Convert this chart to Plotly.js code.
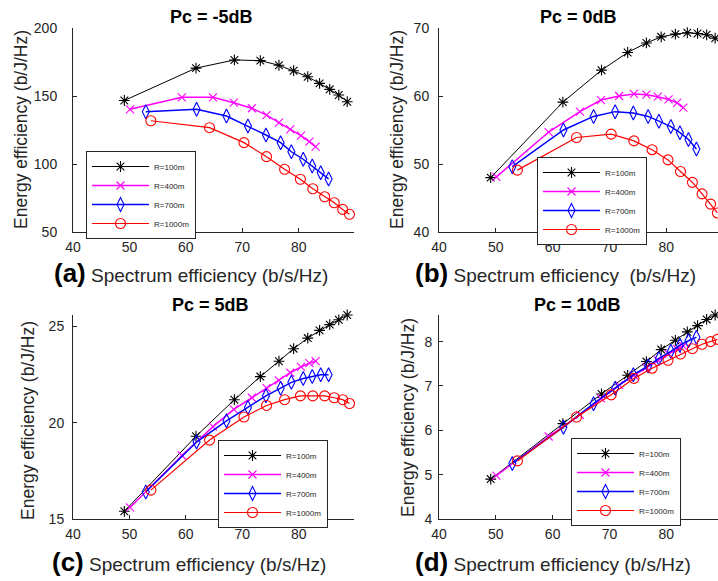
<!DOCTYPE html>
<html>
<head>
<meta charset="utf-8">
<script src="https://cdn.plot.ly/plotly-3.0.1.min.js"></script>
<style>html,body{margin:0;padding:0;background:#fff;}#chart{width:718px;height:581px;}</style>
</head>
<body>
<div id="chart"></div>
<script>
// ---- data ----
const seriesNames = ["R=100m", "R=400m", "R=700m", "R=1000m"];
const panelTitles = ["Pc = -5dB", "Pc = 0dB", "Pc = 5dB", "Pc = 10dB"];
const panelLetters = ["(a)", "(b)", "(c)", "(d)"];
const xLabel = "Spectrum efficiency (b/s/Hz)";
const xLabelB = "Spectrum efficiency\u00A0\u00A0(b/s/Hz)";
const yLabel = "Energy efficiency (b/J/Hz)";

// spectrum efficiency (x) of each radius
const SE_100  = [49.1, 61.8, 68.6, 73.2, 76.5, 79.1, 81.6, 83.7, 85.5, 87.1, 88.6];
const SE_400  = [50.1, 59.3, 64.8, 68.5, 71.7, 74.3, 76.5, 78.5, 80.4, 81.9, 83.0];
const SE_700  = [52.9, 61.9, 67.2, 71.0, 74.2, 76.8, 78.7, 80.8, 82.4, 83.9, 85.3];
const SE_1000 = [53.8, 64.2, 70.3, 74.3, 77.5, 80.3, 82.5, 84.6, 86.3, 87.8, 89.0];

// energy efficiency (y), panel (a) Pc = -5dB
const EE_a_100  = [146.7, 170.5, 176.5, 176.0, 172.6, 168.6, 164.2, 159.3, 154.9, 150.7, 145.8];
const EE_a_400  = [140.2, 149.0, 149.0, 145.1, 141.0, 136.0, 130.4, 125.5, 120.8, 116.4, 112.7];
const EE_a_700  = [138.5, 140.2, 135.3, 128.0, 121.3, 115.7, 109.0, 103.5, 98.5, 93.6, 89.0];
const EE_a_1000 = [131.8, 126.7, 115.7, 105.4, 96.1, 88.8, 81.8, 75.9, 71.5, 66.6, 63.0];
// panel (b) Pc = 0dB
const EE_b_100  = [48.0, 59.1, 63.8, 66.4, 67.8, 68.7, 69.1, 69.3, 69.2, 69.0, 68.5];
const EE_b_400  = [48.1, 54.7, 57.7, 59.4, 60.0, 60.3, 60.2, 59.9, 59.5, 59.0, 58.3];
const EE_b_700  = [49.6, 55.0, 57.0, 57.7, 57.5, 57.0, 56.3, 55.5, 54.6, 53.6, 52.2];
const EE_b_1000 = [49.1, 53.9, 54.4, 53.4, 52.1, 50.6, 48.9, 47.3, 45.6, 44.1, 42.8];
// panel (c) Pc = 5dB
const EE_c_100  = [15.4, 19.3, 21.2, 22.4, 23.2, 23.85, 24.4, 24.8, 25.1, 25.35, 25.6];
const EE_c_400  = [15.6, 18.3, 19.8, 20.7, 21.3, 21.8, 22.2, 22.6, 22.9, 23.1, 23.2];
const EE_c_700  = [16.4, 19.0, 20.1, 20.8, 21.4, 21.8, 22.1, 22.3, 22.4, 22.5, 22.5];
const EE_c_1000 = [16.5, 19.1, 20.3, 20.9, 21.2, 21.4, 21.4, 21.4, 21.3, 21.2, 21.0];
// panel (d) Pc = 10dB
const EE_d_100  = [4.90, 6.15, 6.82, 7.24, 7.55, 7.82, 8.03, 8.22, 8.36, 8.50, 8.60];
const EE_d_400  = [4.98, 5.86, 6.35, 6.72, 7.02, 7.24, 7.42, 7.58, 7.72, 7.83, 7.90];
const EE_d_700  = [5.25, 6.07, 6.60, 6.95, 7.25, 7.45, 7.62, 7.78, 7.92, 8.02, 8.10];
const EE_d_1000 = [5.31, 6.30, 6.80, 7.17, 7.40, 7.58, 7.72, 7.84, 7.94, 8.00, 8.05];

const xTicks = [40, 50, 60, 70, 80];
const yTicks_a = [50, 100, 150, 200];
const yTicks_b = [40, 50, 60, 70];
const yTicks_c = [15, 20, 25];
const yTicks_d = [4, 5, 6, 7, 8];

// ---- styles ----
const W = 718, H = 581;
const fx = p => p / W;
const fy = p => 1 - p / H;
const FONT = '"Liberation Sans", Arial, sans-serif';
const TXT = '#262626';

const styles = [
  {color: '#000000', symbol: 'asterisk-open', size: 9, lw: 1.0},
  {color: '#ff00ff', symbol: 'x-thin-open', size: 8, lw: 1.5},
  {color: '#0000ff', symbol: 'diamond-tall-open', size: 10, lw: 1.5},
  {color: '#ff0000', symbol: 'circle-open', size: 10, lw: 1.2}
];

const SE = [SE_100, SE_400, SE_700, SE_1000];
const panels = [
  [EE_a_100, EE_a_400, EE_a_700, EE_a_1000],
  [EE_b_100, EE_b_400, EE_b_700, EE_b_1000],
  [EE_c_100, EE_c_400, EE_c_700, EE_c_1000],
  [EE_d_100, EE_d_400, EE_d_700, EE_d_1000]
];
const yTickSets = [yTicks_a, yTicks_b, yTicks_c, yTicks_d];

// pixel geometry for each panel: [left, right, top, bottom]
const geom = [
  [73, 354, 28, 232],
  [439, 718, 28, 232],
  [73, 354, 315, 519],
  [439, 718, 315, 519]
];
const xRanges = [[40, 89.8], [40, 89.1], [40, 89.8], [40, 89.1]];
const yRanges = [[50, 200], [40, 70], [15, 25.6], [4, 8.6]];
const yStand = [12, 6, 5, 3];
const legendPos = [[86, 151], [537, 157], [218, 440], [571, 438]];
const titlePos = [[211, 17], [578, 17], [210, 305], [577, 305]];
const yTitlePos = [[21, 130], [397, 130], [28, 421], [408, 418]];
const xTitlePos = [[52, 273], [413, 273], [50, 562], [413, 562]];

const traces = [];
panels.forEach((p, pi) => {
  p.forEach((ys, si) => {
    const st = styles[si];
    traces.push({
      type: 'scatter', mode: 'lines+markers',
      x: SE[si], y: ys,
      name: seriesNames[si],
      xaxis: pi === 0 ? 'x' : 'x' + (pi + 1),
      yaxis: pi === 0 ? 'y' : 'y' + (pi + 1),
      legend: pi === 0 ? 'legend' : 'legend' + (pi + 1),
      cliponaxis: false,
      line: {color: st.color, width: st.lw},
      marker: {symbol: st.symbol, size: st.size, color: st.color,
               line: {color: st.color, width: 1.1}}
    });
  });
});

const layout = {
  width: W, height: H,
  margin: {l: 0, r: 0, t: 0, b: 0},
  paper_bgcolor: '#fff', plot_bgcolor: '#fff',
  font: {family: FONT, color: TXT, size: 13},
  showlegend: true,
  annotations: []
};

geom.forEach((g, i) => {
  const sfx = i === 0 ? '' : String(i + 1);
  layout['xaxis' + sfx] = {
    domain: [fx(g[0]), fx(g[1])], range: xRanges[i],
    anchor: 'y' + sfx, showgrid: false, zeroline: false,
    showline: true, linecolor: TXT, linewidth: 1,
    ticks: 'inside', ticklen: 4, tickcolor: TXT,
    tickvals: xTicks, ticklabelstandoff: 2,
    tickfont: {size: 14, color: TXT, family: FONT}
  };
  layout['yaxis' + sfx] = {
    domain: [fy(g[3]), fy(g[2])], range: yRanges[i],
    anchor: 'x' + sfx, showgrid: false, zeroline: false,
    showline: true, linecolor: TXT, linewidth: 1,
    ticks: 'inside', ticklen: 4, tickcolor: TXT,
    tickvals: yTickSets[i], ticklabelstandoff: yStand[i],
    tickfont: {size: 14, color: TXT, family: FONT}
  };
  layout[i === 0 ? 'legend' : 'legend' + (i + 1)] = {
    x: fx(legendPos[i][0]), y: fy(legendPos[i][1]),
    xanchor: 'left', yanchor: 'top',
    bgcolor: '#fff', bordercolor: TXT, borderwidth: 1,
    font: {size: 8, color: TXT, family: FONT},
    itemwidth: 57, tracegroupgap: 0
  };
  layout.annotations.push({
    xref: 'paper', yref: 'paper', x: fx(titlePos[i][0]), y: fy(titlePos[i][1]),
    xanchor: 'center', yanchor: 'middle', showarrow: false,
    text: '<b>' + panelTitles[i] + '</b>', font: {size: 18, color: '#000', family: FONT}
  });
  layout.annotations.push({
    xref: 'paper', yref: 'paper', x: fx(yTitlePos[i][0]), y: fy(yTitlePos[i][1]),
    xanchor: 'center', yanchor: 'middle', showarrow: false, textangle: -90,
    text: yLabel, font: {size: 17.5, color: TXT, family: FONT}
  });
  layout.annotations.push({
    xref: 'paper', yref: 'paper', x: fx(xTitlePos[i][0]), y: fy(xTitlePos[i][1]),
    xanchor: 'left', yanchor: 'middle', showarrow: false,
    text: '<span style="font-size:26px;color:#000"><b>' + panelLetters[i] + '</b></span> ' + (i === 1 ? xLabelB : xLabel),
    font: {size: 19, color: TXT, family: FONT}
  });
});

Plotly.newPlot('chart', traces, layout, {displayModeBar: false, staticPlot: true});
</script>
</body>
</html>
